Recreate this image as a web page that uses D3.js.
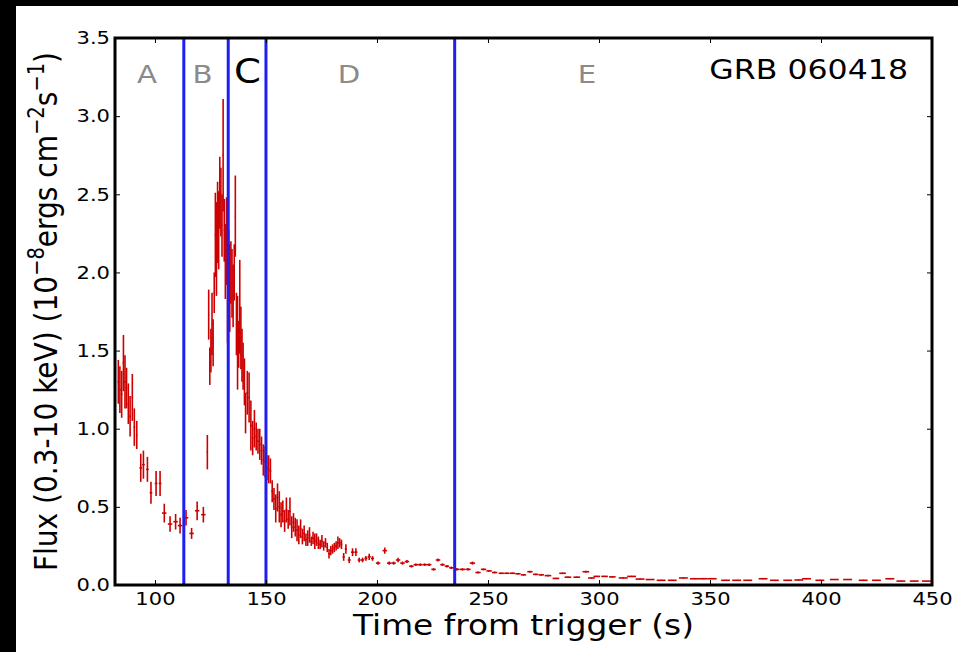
<!DOCTYPE html>
<html>
<head>
<meta charset="utf-8">
<script src="https://cdnjs.cloudflare.com/ajax/libs/d3/7.8.5/d3.min.js"></script>
<style>
  body { margin: 0; background: #000; }
  svg { display: block; }
  text { font-family: "DejaVu Sans", sans-serif; }
</style>
</head>
<body>
<div id="chart"></div>
<script>
// ---------------------------------------------------------------------------//
// Data: GRB 060418 X-ray light curve, rows are [time, flux, fluxErr, timeErr]
// ---------------------------------------------------------------------------//
const pulseA = [
  [83.5, 1.30, 0.14, 0.35], [84.2, 1.25, 0.15, 0.35], [85.0, 1.22, 0.15, 0.35],
  [85.8, 1.42, 0.18, 0.35], [86.5, 1.30, 0.17, 0.35], [87.2, 1.26, 0.13, 0.35],
  [88.0, 1.16, 0.13, 0.35], [88.8, 1.08, 0.13, 0.35], [89.8, 1.20, 0.15, 0.35],
  [90.7, 1.01, 0.12, 0.35], [91.8, 0.96, 0.09, 0.35], [93.6, 0.75, 0.09, 0.6],
  [94.8, 0.77, 0.09, 0.6], [96.6, 0.74, 0.08, 0.6], [98.2, 0.59, 0.07, 0.6],
  [100.5, 0.65, 0.08, 0.6], [102.3, 0.65, 0.08, 0.6], [104.2, 0.46, 0.06, 1.0],
  [106.8, 0.39, 0.05, 1.0], [109.3, 0.405, 0.05, 1.0], [111.3, 0.38, 0.05, 1.0],
  [114.0, 0.43, 0.05, 1.0], [116.5, 0.33, 0.035, 1.0], [119.0, 0.475, 0.06, 1.0],
  [121.8, 0.45, 0.05, 1.0], [123.6, 0.85, 0.11, 0.3]
];

const flarePeak = [
  [124.2, 1.73, 0.16, 0.25], [124.7, 1.40, 0.12, 0.25], [125.2, 1.50, 0.14, 0.25],
  [125.7, 1.67, 0.20, 0.25], [126.2, 1.55, 0.15, 0.25], [126.7, 1.87, 0.13, 0.25],
  [127.2, 2.24, 0.27, 0.25], [127.7, 2.15, 0.30, 0.25], [128.2, 2.32, 0.26, 0.25],
  [128.7, 2.27, 0.25, 0.25], [129.2, 2.51, 0.23, 0.25], [129.7, 2.45, 0.22, 0.25],
  [130.2, 2.30, 0.20, 0.25], [130.7, 2.75, 0.36, 0.25], [131.2, 2.27, 0.20, 0.25],
  [131.7, 2.07, 0.24, 0.25], [132.2, 2.20, 0.28, 0.25], [132.7, 1.90, 0.35, 0.25],
  [133.2, 2.02, 0.25, 0.25], [133.7, 1.90, 0.28, 0.25], [134.2, 2.00, 0.20, 0.25],
  [134.7, 1.93, 0.22, 0.25], [135.2, 1.85, 0.20, 0.25], [135.7, 2.00, 0.18, 0.25],
  [136.2, 2.36, 0.26, 0.25], [136.7, 1.67, 0.20, 0.25], [137.2, 1.55, 0.30, 0.25],
  [137.7, 1.54, 0.15, 0.25], [138.2, 1.78, 0.30, 0.25], [138.7, 1.58, 0.20, 0.25],
  [139.2, 1.47, 0.17, 0.25], [139.7, 1.40, 0.15, 0.25], [140.3, 1.30, 0.15, 0.25],
  [140.8, 1.10, 0.13, 0.25]
];

const flareDecay = [
  [141.6, 1.23, 0.14, 0.4], [142.4, 1.20, 0.16, 0.4], [143.2, 1.02, 0.16, 0.4],
  [144.0, 0.94, 0.11, 0.4], [144.8, 1.00, 0.12, 0.4], [145.6, 0.95, 0.09, 0.4],
  [146.4, 0.92, 0.08, 0.4], [147.2, 0.90, 0.10, 0.4], [148.0, 0.86, 0.09, 0.4],
  [148.8, 0.80, 0.10, 0.4], [149.6, 0.79, 0.10, 0.4], [150.4, 0.75, 0.08, 0.4],
  [151.2, 0.74, 0.09, 0.4], [152.0, 0.73, 0.08, 0.4], [152.8, 0.60, 0.07, 0.4],
  [153.6, 0.55, 0.07, 0.4], [154.4, 0.49, 0.09, 0.4], [155.2, 0.56, 0.09, 0.4],
  [156.0, 0.50, 0.10, 0.4], [156.8, 0.45, 0.08, 0.4], [157.6, 0.47, 0.07, 0.4],
  [158.4, 0.41, 0.07, 0.4], [159.2, 0.48, 0.08, 0.4], [160.0, 0.42, 0.06, 0.4],
  [160.8, 0.47, 0.09, 0.4], [161.6, 0.37, 0.07, 0.4], [162.4, 0.40, 0.06, 0.4],
  [163.2, 0.37, 0.06, 0.4], [164.0, 0.35, 0.07, 0.4], [164.8, 0.32, 0.06, 0.4],
  [165.6, 0.36, 0.06, 0.4], [166.4, 0.31, 0.05, 0.4], [167.2, 0.33, 0.05, 0.4],
  [168.0, 0.29, 0.04, 0.4], [168.8, 0.30, 0.05, 0.4], [169.6, 0.32, 0.05, 0.4],
  [170.4, 0.28, 0.03, 0.4], [171.2, 0.30, 0.04, 0.4], [172.0, 0.28, 0.05, 0.4],
  [172.8, 0.29, 0.04, 0.4], [173.6, 0.27, 0.04, 0.4], [174.4, 0.26, 0.03, 0.4],
  [175.2, 0.28, 0.04, 0.4], [176.0, 0.25, 0.03, 0.4], [176.8, 0.27, 0.03, 0.4],
  [177.6, 0.24, 0.03, 0.4], [178.4, 0.20, 0.03, 0.4], [179.2, 0.22, 0.03, 0.4],
  [180.0, 0.23, 0.03, 0.4], [180.8, 0.24, 0.03, 0.4], [181.6, 0.25, 0.03, 0.4],
  [182.4, 0.27, 0.04, 0.4], [183.2, 0.27, 0.03, 0.4], [184.0, 0.26, 0.03, 0.4],
  [185.0, 0.18, 0.025, 0.5], [186.0, 0.23, 0.03, 0.5], [187.5, 0.16, 0.02, 0.7],
  [189.0, 0.21, 0.025, 0.7], [190.5, 0.21, 0.025, 0.7], [192.0, 0.16, 0.015, 0.7],
  [193.5, 0.16, 0.015, 0.7], [195.0, 0.17, 0.015, 0.7], [196.5, 0.18, 0.02, 0.7],
  [198.0, 0.17, 0.015, 0.7], [200.5, 0.14, 0.01, 1.0], [203.5, 0.22, 0.02, 1.0],
  [205.5, 0.14, 0.01, 1.0], [207.5, 0.14, 0.01, 1.0], [209.5, 0.16, 0.015, 1.0],
  [211.5, 0.14, 0.01, 1.0], [213.5, 0.15, 0.01, 1.0], [215.5, 0.12, 0.008, 1.0],
  [217.5, 0.13, 0.008, 1.0], [219.5, 0.13, 0.008, 1.0], [221.5, 0.13, 0.008, 1.0],
  [223.5, 0.13, 0.008, 1.0], [225.5, 0.10, 0.008, 1.0], [227.5, 0.16, 0.01, 1.0],
  [229.5, 0.13, 0.008, 1.0], [231.5, 0.12, 0.008, 1.0], [233.5, 0.11, 0.008, 1.0]
];

const lateTail = [
  [236.0, 0.10, 0.008, 1.2], [238.5, 0.10, 0.008, 1.2], [241.0, 0.10, 0.008, 1.2],
  [243.0, 0.14, 0.01, 1.2], [245.5, 0.08, 0.006, 1.2], [248.0, 0.10, 0.006, 1.2],
  [250.5, 0.09, 0.006, 1.2], [253.0, 0.08, 0.006, 1.2], [256.0, 0.075, 0.005, 1.2],
  [258.5, 0.075, 0.005, 1.2], [261.0, 0.075, 0.005, 1.2], [263.5, 0.072, 0.005, 1.2],
  [266.0, 0.065, 0.005, 1.2], [268.9, 0.085, 0.006, 1.2], [271.5, 0.068, 0.005, 1.2],
  [274.0, 0.065, 0.005, 1.2], [277.0, 0.060, 0.005, 1.5], [280.6, 0.042, 0.004, 1.5],
  [283.6, 0.075, 0.005, 1.5], [286.0, 0.050, 0.004, 1.5], [290.0, 0.050, 0.004, 1.5],
  [294.1, 0.085, 0.006, 1.5], [296.6, 0.045, 0.004, 1.5], [299.0, 0.055, 0.004, 1.5],
  [302.5, 0.055, 0.004, 1.5], [306.0, 0.052, 0.004, 1.5], [310.9, 0.045, 0.004, 2.0],
  [314.7, 0.055, 0.004, 2.0], [318.5, 0.038, 0.003, 2.0], [323.0, 0.035, 0.003, 2.0],
  [328.0, 0.030, 0.003, 2.0], [333.0, 0.030, 0.003, 2.0], [338.0, 0.045, 0.004, 2.0],
  [343.0, 0.040, 0.003, 2.0], [347.0, 0.040, 0.003, 2.0], [351.0, 0.040, 0.003, 2.0],
  [357.0, 0.030, 0.003, 2.0], [362.0, 0.030, 0.003, 2.0], [367.0, 0.030, 0.003, 2.0],
  [373.9, 0.040, 0.003, 2.0], [379.0, 0.030, 0.003, 2.0], [385.0, 0.030, 0.003, 2.0],
  [390.0, 0.032, 0.003, 2.0], [393.5, 0.040, 0.003, 2.0], [399.5, 0.030, 0.003, 2.0],
  [406.0, 0.035, 0.003, 2.0], [412.0, 0.035, 0.003, 2.0], [419.0, 0.030, 0.003, 2.0],
  [425.0, 0.030, 0.003, 2.0], [431.0, 0.040, 0.003, 2.0], [436.0, 0.025, 0.002, 2.0],
  [442.0, 0.025, 0.002, 2.0], [447.5, 0.025, 0.002, 2.0]
];

// phase boundaries (s) and phase labels
const phaseBounds = [113, 133, 150, 235];
const phaseNames = ["A", "B", "C", "D", "E"];
const phaseLabelTimes = [96.4, 121.4, 141.7, 187.4, 294.6];
const phaseLabelFlux = 3.21;

const xTicks = [100, 150, 200, 250, 300, 350, 400, 450];
const yTicks = [0, 0.5, 1.0, 1.5, 2.0, 2.5, 3.0, 3.5];
const xDomain = [82, 450];
const yDomain = [0, 3.5];

// ---------------------------------------------------------------------------//
// Layout
// ---------------------------------------------------------------------------//
const width = 958;
const height = 652;
const plot = { left: 115, right: 932, top: 38, bottom: 585 };
const stretch = "scale(1.17,1)"; // source picture is wider than tall text

const svg = d3.select("#chart")
  .append("svg")
  .attr("width", width)
  .attr("height", height);

svg.append("rect")
  .attr("x", 16).attr("y", 6)
  .attr("width", width - 16).attr("height", height - 6)
  .attr("fill", "#ffffff");

const x = d3.scaleLinear().domain(xDomain).range([plot.left, plot.right]);
const y = d3.scaleLinear().domain(yDomain).range([plot.bottom, plot.top]);

svg.append("clipPath").attr("id", "clip")
  .append("rect")
  .attr("x", plot.left).attr("y", plot.top)
  .attr("width", plot.right - plot.left)
  .attr("height", plot.bottom - plot.top);

// ---------------------------------------------------------------------------//
// Error bars
// ---------------------------------------------------------------------------//
const allPoints = [].concat(pulseA, flarePeak, flareDecay, lateTail);
const dataG = svg.append("g").attr("clip-path", "url(#clip)");

const bars = dataG.selectAll("g.pt")
  .data(allPoints)
  .join("g")
  .attr("class", "pt")
  .attr("stroke", "#cc0000")
  .attr("stroke-width", 1.6);

bars.append("line")
  .attr("x1", (d) => x(d[0])).attr("x2", (d) => x(d[0]))
  .attr("y1", (d) => y(d[1] - d[2])).attr("y2", (d) => y(d[1] + d[2]));

bars.append("line")
  .attr("x1", (d) => x(d[0] - d[3])).attr("x2", (d) => x(d[0] + d[3]))
  .attr("y1", (d) => y(d[1])).attr("y2", (d) => y(d[1]));

// phase boundaries
dataG.selectAll("line.bound")
  .data(phaseBounds)
  .join("line")
  .attr("class", "bound")
  .attr("x1", (d) => x(d)).attr("x2", (d) => x(d))
  .attr("y1", plot.top).attr("y2", plot.bottom)
  .attr("stroke", "#1e1ef0")
  .attr("stroke-width", 3);

// phase labels
svg.selectAll("text.phase")
  .data(phaseNames)
  .join("text")
  .attr("class", "phase")
  .attr("transform", (d, i) => `translate(${x(phaseLabelTimes[i])},${y(phaseLabelFlux)}) ${stretch}`)
  .attr("text-anchor", "middle")
  .attr("font-size", (d) => (d === "C" ? 33 : 25))
  .attr("fill", (d) => (d === "C" ? "#000000" : "#8a8a8a"))
  .text((d) => d);

svg.append("text")
  .attr("transform", `translate(908,79) ${stretch}`)
  .attr("text-anchor", "end")
  .attr("font-size", 27)
  .attr("fill", "#000")
  .text("GRB 060418");

// ---------------------------------------------------------------------------//
// Axes (ticks point inward on all four sides)
// ---------------------------------------------------------------------------//
function styleAxis(g) {
  g.select(".domain").remove();
  g.selectAll(".tick line").attr("stroke", "#000").attr("stroke-width", 1);
}

svg.append("g")
  .attr("transform", `translate(0,${plot.bottom})`)
  .call(d3.axisBottom(x).tickValues(xTicks).tickSizeInner(-5).tickSizeOuter(0)
    .tickPadding(7).tickFormat(d3.format("d")))
  .call(styleAxis)
  .call((g) => g.selectAll("text")
    .attr("font-size", 18).attr("fill", "#000")
    .attr("font-family", "DejaVu Sans, sans-serif")
    .attr("transform", stretch));

svg.append("g")
  .attr("transform", `translate(0,${plot.top})`)
  .call(d3.axisTop(x).tickValues(xTicks).tickSizeInner(-5).tickSizeOuter(0).tickFormat(""))
  .call(styleAxis);

svg.append("g")
  .attr("transform", `translate(${plot.left},0)`)
  .call(d3.axisLeft(y).tickValues(yTicks).tickSizeInner(-5).tickSizeOuter(0)
    .tickPadding(4.3).tickFormat(d3.format(".1f")))
  .call(styleAxis)
  .call((g) => g.selectAll("text")
    .attr("font-size", 18).attr("fill", "#000")
    .attr("font-family", "DejaVu Sans, sans-serif")
    .attr("transform", stretch));

svg.append("g")
  .attr("transform", `translate(${plot.right},0)`)
  .call(d3.axisRight(y).tickValues(yTicks).tickSizeInner(-5).tickSizeOuter(0).tickFormat(""))
  .call(styleAxis);

// frame
svg.append("rect")
  .attr("x", plot.left).attr("y", plot.top)
  .attr("width", plot.right - plot.left)
  .attr("height", plot.bottom - plot.top)
  .attr("fill", "none")
  .attr("stroke", "#000")
  .attr("stroke-width", 3);

// axis labels
svg.append("text")
  .attr("transform", `translate(${(plot.left + plot.right) / 2},635) ${stretch}`)
  .attr("text-anchor", "middle")
  .attr("font-size", 28)
  .attr("fill", "#000")
  .text("Time from trigger (s)");

const yLabel = svg.append("text")
  .attr("transform", `translate(57,${(plot.top + plot.bottom) / 2}) ${stretch} rotate(-90)`)
  .attr("text-anchor", "middle")
  .attr("font-size", 28)
  .attr("fill", "#000");

const yLabelParts = [
  ["Flux (0.3-10 keV) (10", false],
  ["\u22128", true],
  ["ergs cm", false],
  ["\u22122", true],
  ["s", false],
  ["\u22121", true],
  [")", false]
];
let raised = false;
yLabelParts.forEach(([str, sup]) => {
  const shift = sup === raised ? 0 : (sup ? -11 : 11);
  yLabel.append("tspan")
    .attr("dy", shift)
    .attr("font-size", sup ? 19.5 : 28)
    .text(str);
  raised = sup;
});
</script>
</body>
</html>
